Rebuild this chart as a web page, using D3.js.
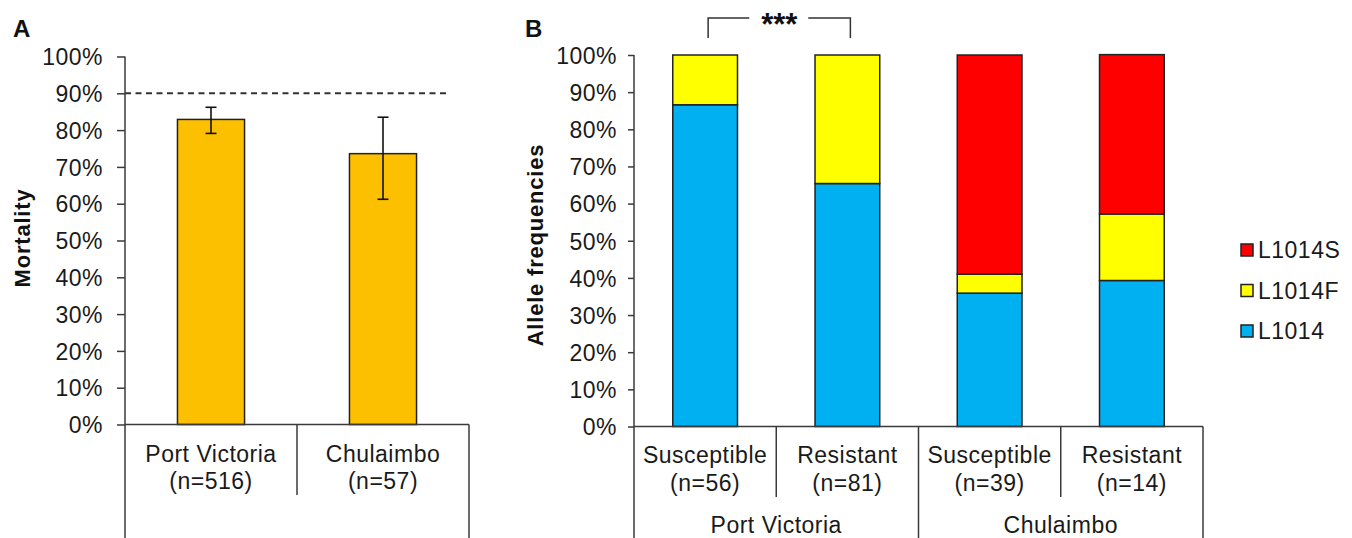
<!DOCTYPE html>
<html>
<head>
<meta charset="utf-8">
<script src="https://cdn.jsdelivr.net/npm/d3@7"></script>
<style>
  body { margin: 0; background: #fff; }
  svg { font-family: "Liberation Sans", Arial, sans-serif; }
  .tick text { font-size: 23px; letter-spacing: 0.5px; fill: #1a1a1a; }
  .lbl { font-size: 23px; letter-spacing: 0.5px; fill: #1a1a1a; }
  .ttl { font-size: 22px; font-weight: bold; letter-spacing: 0.8px; fill: #111; }
  .panel { font-size: 24px; font-weight: bold; fill: #111; }
</style>
</head>
<body>
<div id="chart"></div>
<script>
// ---- data ----
// panel A: mortality
var sites = ["Port Victoria", "Chulaimbo"];
var siteN = [516, 57];
var mortality = [82.9, 73.6];
var mortalityLow = [79.1, 61.2];
var mortalityHigh = [86.2, 83.5];
var threshold = 90;

// panel B: allele frequencies
var phenotypes = ["Susceptible", "Resistant", "Susceptible", "Resistant"];
var phenoN = [56, 81, 39, 14];
var groups = ["Port Victoria", "Chulaimbo"];
var alleles = ["L1014", "L1014F", "L1014S"];
var L1014 = [86.6, 65.4, 35.9, 39.3];
var L1014F = [13.4, 34.6, 5.1, 17.9];
var L1014S = [0, 0, 59.0, 42.9];

var yTicks = [0, 10, 20, 30, 40, 50, 60, 70, 80, 90, 100];

var alleleColor = { "L1014": "#00b0f0", "L1014F": "#ffff00", "L1014S": "#ff0000" };
var axisColor = "#3a3a3a";

var svg = d3.select("#chart").append("svg")
    .attr("width", 1352)
    .attr("height", 538);

/*
 * Panel A
 */
var a = { left: 125, right: 469, top: 56.5, bottom: 424.5 };

var xA = d3.scaleBand().domain(sites).range([a.left, a.right]);
var yA = d3.scaleLinear().domain([0, 100]).range([a.bottom, a.top]);

svg.append("text").attr("class", "panel")
    .attr("x", 13).attr("y", 37).text("A");

// y axis
var gA = svg.append("g")
    .attr("transform", "translate(" + a.left + ",0)")
    .call(d3.axisLeft(yA).tickValues(yTicks).tickSize(8).tickPadding(14)
        .tickFormat(function(d) { return d + "%"; }));
gA.select(".domain").remove();
gA.selectAll(".tick line").attr("stroke", axisColor).attr("stroke-width", 1.5);
gA.selectAll(".tick text").attr("dy", "0.36em");

// threshold line
svg.append("line")
    .attr("x1", a.left).attr("x2", a.right - 20)
    .attr("y1", yA(threshold)).attr("y2", yA(threshold))
    .attr("stroke", "#333").attr("stroke-width", 2)
    .attr("stroke-dasharray", "6,4.5");

// bars
var barWA = xA.bandwidth() * 0.39;
svg.selectAll(".barA")
    .data(sites)
    .enter()
    .append("rect")
    .attr("class", "barA")
    .attr("x", function(d) { return xA(d) + xA.bandwidth() / 2 - barWA / 2; })
    .attr("y", function(d, i) { return yA(mortality[i]); })
    .attr("width", barWA)
    .attr("height", function(d, i) { return yA(0) - yA(mortality[i]); })
    .attr("fill", "#fcc000")
    .attr("stroke", "#222")
    .attr("stroke-width", 1.5);

// error bars
var errs = svg.selectAll(".err").data(sites).enter().append("g").attr("class", "err")
    .attr("stroke", "#111").attr("stroke-width", 1.6);
errs.append("line")
    .attr("x1", function(d) { return xA(d) + xA.bandwidth() / 2; })
    .attr("x2", function(d) { return xA(d) + xA.bandwidth() / 2; })
    .attr("y1", function(d, i) { return yA(mortalityLow[i]); })
    .attr("y2", function(d, i) { return yA(mortalityHigh[i]); });
[mortalityLow, mortalityHigh].forEach(function(arr) {
    errs.append("line")
        .attr("x1", function(d) { return xA(d) + xA.bandwidth() / 2 - 5.5; })
        .attr("x2", function(d) { return xA(d) + xA.bandwidth() / 2 + 5.5; })
        .attr("y1", function(d, i) { return yA(arr[i]); })
        .attr("y2", function(d, i) { return yA(arr[i]); });
});

// category frame
var frameA = svg.append("g").attr("stroke", axisColor).attr("stroke-width", 1.5);
frameA.append("line").attr("x1", a.left).attr("x2", a.left).attr("y1", a.top).attr("y2", 538);
frameA.append("line").attr("x1", a.left).attr("x2", a.right).attr("y1", a.bottom).attr("y2", a.bottom);
frameA.append("line").attr("x1", a.right).attr("x2", a.right).attr("y1", a.bottom).attr("y2", 538);
frameA.append("line")
    .attr("x1", xA(sites[1])).attr("x2", xA(sites[1]))
    .attr("y1", a.bottom).attr("y2", 495);

svg.selectAll(".catA")
    .data(sites)
    .enter()
    .append("text")
    .attr("class", "lbl")
    .attr("text-anchor", "middle")
    .attr("x", function(d) { return xA(d) + xA.bandwidth() / 2; })
    .attr("y", 462)
    .each(function(d, i) {
        d3.select(this).append("tspan").attr("x", xA(d) + xA.bandwidth() / 2).text(d);
        d3.select(this).append("tspan").attr("x", xA(d) + xA.bandwidth() / 2).attr("dy", 27)
            .text("(n=" + siteN[i] + ")");
    });

svg.append("text").attr("class", "ttl")
    .attr("text-anchor", "middle")
    .attr("transform", "translate(30,238) rotate(-90)")
    .text("Mortality");

/*
 * Panel B
 */
var b = { left: 634, right: 1203, top: 55, bottom: 426.5 };

var xB = d3.scaleBand().domain(d3.range(phenotypes.length)).range([b.left, b.right]);
var yB = d3.scaleLinear().domain([0, 100]).range([b.bottom, b.top]);

svg.append("text").attr("class", "panel")
    .attr("x", 525).attr("y", 37).text("B");

var gB = svg.append("g")
    .attr("transform", "translate(" + b.left + ",0)")
    .call(d3.axisLeft(yB).tickValues(yTicks).tickSize(6).tickPadding(11)
        .tickFormat(function(d) { return d + "%"; }));
gB.select(".domain").remove();
gB.selectAll(".tick line").attr("stroke", axisColor).attr("stroke-width", 1.5);
gB.selectAll(".tick text").attr("dy", "0.36em");

// stacked bars
var tableB = phenotypes.map(function(p, i) {
    return { idx: i, L1014: L1014[i], L1014F: L1014F[i], L1014S: L1014S[i] };
});
var stacked = d3.stack().keys(alleles)(tableB);
var barWB = xB.bandwidth() * 0.455;

svg.selectAll(".layer")
    .data(stacked)
    .enter()
    .append("g")
    .attr("class", "layer")
    .attr("fill", function(d) { return alleleColor[d.key]; })
    .selectAll("rect")
    .data(function(d) { return d.filter(function(s) { return s[1] - s[0] > 0; }); })
    .enter()
    .append("rect")
    .attr("x", function(d) { return xB(d.data.idx) + xB.bandwidth() / 2 - barWB / 2; })
    .attr("y", function(d) { return yB(d[1]); })
    .attr("width", barWB)
    .attr("height", function(d) { return yB(d[0]) - yB(d[1]); })
    .attr("stroke", "#222")
    .attr("stroke-width", 1.5);

// frame under axis
var frameB = svg.append("g").attr("stroke", axisColor).attr("stroke-width", 1.5);
frameB.append("line").attr("x1", b.left).attr("x2", b.left).attr("y1", b.top).attr("y2", 538);
frameB.append("line").attr("x1", b.left).attr("x2", b.right).attr("y1", b.bottom).attr("y2", b.bottom);
frameB.append("line").attr("x1", b.right).attr("x2", b.right).attr("y1", b.bottom).attr("y2", 538);
[1, 2, 3].forEach(function(i) {
    frameB.append("line")
        .attr("x1", xB(i)).attr("x2", xB(i))
        .attr("y1", b.bottom).attr("y2", i === 2 ? 538 : 497);
});

svg.selectAll(".catB")
    .data(phenotypes)
    .enter()
    .append("text")
    .attr("class", "lbl")
    .attr("text-anchor", "middle")
    .attr("y", 463)
    .each(function(d, i) {
        var cx = xB(i) + xB.bandwidth() / 2;
        d3.select(this).append("tspan").attr("x", cx).text(d);
        d3.select(this).append("tspan").attr("x", cx).attr("dy", 28).text("(n=" + phenoN[i] + ")");
    });

svg.selectAll(".grpB")
    .data(groups)
    .enter()
    .append("text")
    .attr("class", "lbl")
    .attr("text-anchor", "middle")
    .attr("x", function(d, i) { return xB(i * 2) + xB.bandwidth(); })
    .attr("y", 533)
    .text(function(d) { return d; });

svg.append("text").attr("class", "ttl")
    .attr("text-anchor", "middle")
    .attr("transform", "translate(543,245) rotate(-90)")
    .text("Allele frequencies");

// significance bracket between first two bars
var c0 = xB(0) + xB.bandwidth() / 2 + 3, c1 = xB(1) + xB.bandwidth() / 2 + 3;
var yBr = 18, yBrEnd = 38, mid = (c0 + c1) / 2;
var br = svg.append("g").attr("stroke", "#333").attr("stroke-width", 1.5).attr("fill", "none");
br.append("path").attr("d", "M" + c0 + "," + yBrEnd + "V" + yBr + "H" + (mid - 30));
br.append("path").attr("d", "M" + (mid + 29) + "," + yBr + "H" + c1 + "V" + yBrEnd);
svg.append("text")
    .attr("text-anchor", "middle")
    .attr("x", mid).attr("y", 35)
    .style("font-weight", "bold").style("font-size", "31px").attr("fill", "#111")
    .text("***");

// legend
var legend = svg.selectAll(".legend")
    .data(alleles.slice().reverse())
    .enter()
    .append("g")
    .attr("class", "legend")
    .attr("transform", function(d, i) { return "translate(1241," + (250 + i * 40.5) + ")"; });
legend.append("rect")
    .attr("x", 0).attr("y", -6).attr("width", 12).attr("height", 12)
    .attr("fill", function(d) { return alleleColor[d]; })
    .attr("stroke", "#222").attr("stroke-width", 1.5);
legend.append("text")
    .attr("class", "lbl")
    .attr("x", 17).attr("dy", "0.36em")
    .text(function(d) { return d; });
</script>
</body>
</html>
